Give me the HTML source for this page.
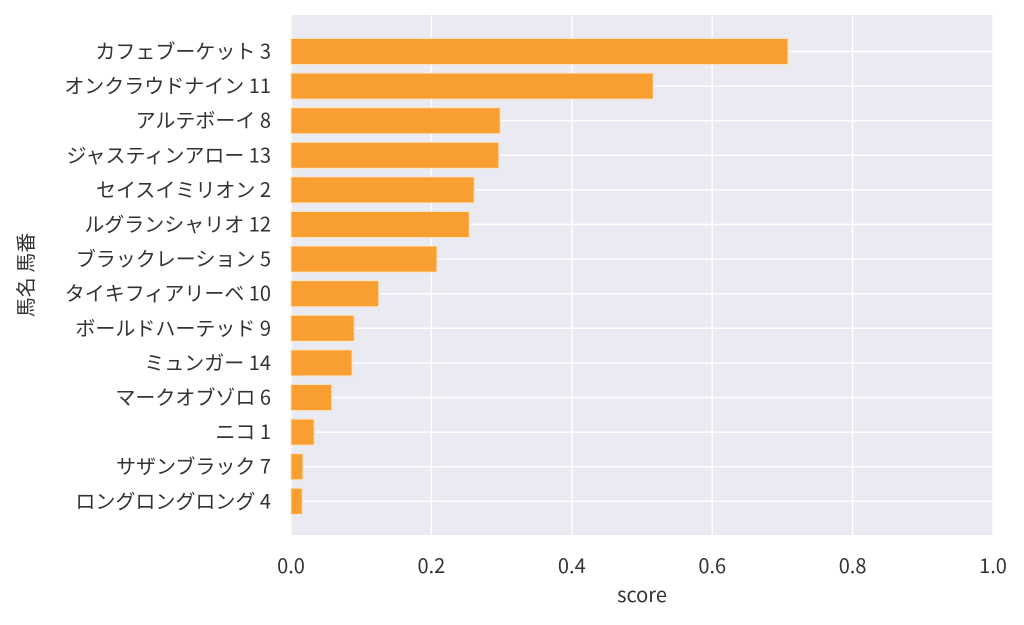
<!DOCTYPE html>
<html><head><meta charset="utf-8"><style>
body{margin:0;background:#fff;}
</style></head><body>
<svg width="1024" height="620" xmlns="http://www.w3.org/2000/svg" font-family="Noto Sans CJK JP, Liberation Sans, sans-serif">
<rect x="291" y="15" width="702" height="520" fill="#eaeaf2"/>
<g id="grid"></g><g id="bars"></g><g id="ylabels"></g><g id="xlabels"></g>
<text x="642" y="602" text-anchor="middle" font-size="20" fill="#333">score</text>
<text transform="translate(33,275) rotate(-90)" text-anchor="middle" font-size="20" fill="#333">馬名 馬番</text>
</svg>
<script>
const categories=["カフェブーケット 3","オンクラウドナイン 11","アルテボーイ 8","ジャスティンアロー 13","セイスイミリオン 2","ルグランシャリオ 12","ブラックレーション 5","タイキフィアリーベ 10","ボールドハーテッド 9","ミュンガー 14","マークオブゾロ 6","ニコ 1","サザンブラック 7","ロングロングロング 4"];
const scores=[0.708,0.516,0.298,0.296,0.261,0.254,0.208,0.125,0.090,0.087,0.058,0.033,0.017,0.016];
const xTicks=[0,0.2,0.4,0.6,0.8,1.0];
const xTickLabels=["0.0","0.2","0.4","0.6","0.8","1.0"];
const NS="http://www.w3.org/2000/svg";
const X0=291,X1=993,Y0=15,Y1=535;
const xs=v=>X0+(v-0)/(1-0)*(X1-X0);
const step=34.6, ys=i=>51.5+i*step;
function mk(t,a,p){const e=document.createElementNS(NS,t);for(const k in a)e.setAttribute(k,a[k]);p.appendChild(e);return e;}
const g=document.getElementById('grid'),b=document.getElementById('bars'),yl=document.getElementById('ylabels'),xl=document.getElementById('xlabels');
xTicks.forEach((t,i)=>{
 const l=mk('line',{x1:xs(t),x2:xs(t),y1:Y0,y2:Y1,stroke:'#fff','stroke-width':1.5},g);
 
 
 const tx=mk('text',{x:xs(t),y:Y1+38,'text-anchor':'middle','font-size':20,fill:'#333'},xl);
 tx.textContent=xTickLabels[i];
 
 
});
categories.forEach((c,i)=>{
 const l=mk('line',{x1:X0,x2:X1,y1:ys(i),y2:ys(i),stroke:'#fff','stroke-width':1.5},g);
 
 
 const r=mk('rect',{x:X0,y:ys(i)-13,width:xs(scores[i])-X0,height:26,fill:'#f99f32',stroke:'#fde2c0','stroke-width':1},b);
 
 
 const t=mk('text',{x:X0-20,y:ys(i)+7,'text-anchor':'end','font-size':20,fill:'#333'},yl);
 t.textContent=c;
 
 
});
</script>
</body></html>
